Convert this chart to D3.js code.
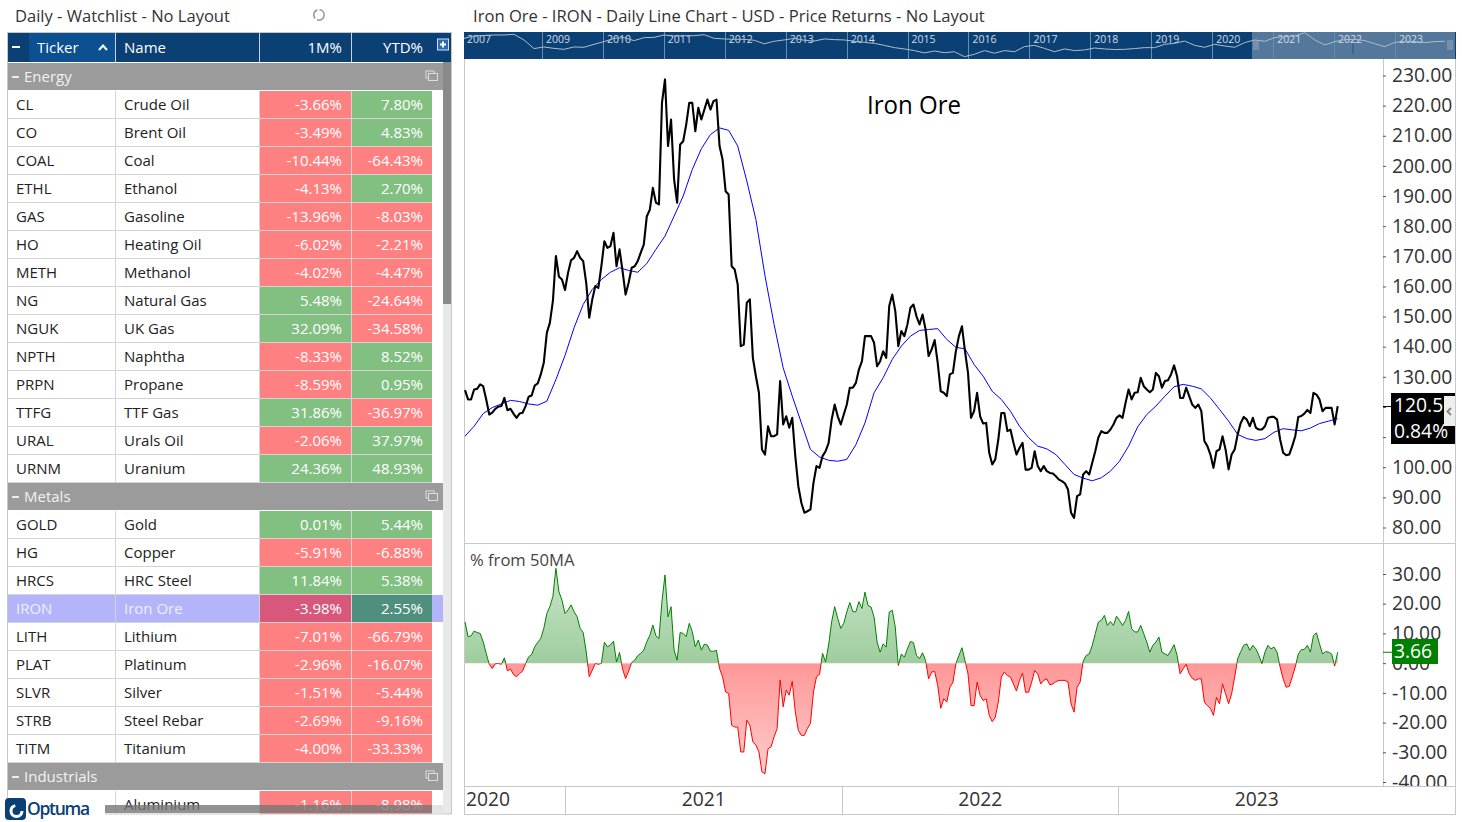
<!DOCTYPE html>
<html lang="en">
<head>
<meta charset="UTF-8">
<title>Iron Ore - Optuma</title>
<script src="https://d3js.org/d3.v7.min.js"></script>
<style>
    html, body { margin: 0; padding: 0; background: #fff; overflow: hidden; }
    text { font-family: "Open Sans", sans-serif; }
    .tick line { stroke: #555; }
    .tick text { fill: #333; font-size: 19.3px; }
</style>
</head>
<body>
<script>
// watchlist
const groups = ["Energy", "Metals", "Industrials"];
const groupSizes = [14, 9, 1];
const tickers = ["CL","CO","COAL","ETHL","GAS","HO","METH","NG","NGUK","NPTH","PRPN","TTFG","URAL","URNM",
    "GOLD","HG","HRCS","IRON","LITH","PLAT","SLVR","STRB","TITM",""];
const names = ["Crude Oil","Brent Oil","Coal","Ethanol","Gasoline","Heating Oil","Methanol","Natural Gas","UK Gas","Naphtha","Propane","TTF Gas","Urals Oil","Uranium",
    "Gold","Copper","HRC Steel","Iron Ore","Lithium","Platinum","Silver","Steel Rebar","Titanium","Aluminium"];
const oneMonth = [-3.66,-3.49,-10.44,-4.13,-13.96,-6.02,-4.02,5.48,32.09,-8.33,-8.59,31.86,-2.06,24.36,
    0.01,-5.91,11.84,-3.98,-7.01,-2.96,-1.51,-2.69,-4.00,-1.16];
const ytd = [7.80,4.83,-64.43,2.70,-8.03,-2.21,-4.47,-24.64,-34.58,8.52,0.95,-36.97,37.97,48.93,
    5.44,-6.88,5.38,2.55,-66.79,-16.07,-5.44,-9.16,-33.33,-8.98];

// iron ore daily line, one reading every 4 days from 22 Aug 2020
const priceValues = [125.6,122.5,122.5,125.8,126.0,127.5,126.9,122.5,117.5,118.1,119.4,120.1,120.3,123.0,118.9,119.4,117.8,116.4,117.8,118.1,
    120.3,123.4,123.8,127.1,127.8,130.8,134.7,144.6,147.9,155.1,170.1,163.2,162.3,158.8,164.5,168.7,169.5,171.7,169.5,168.4,
    161.2,149.6,155.7,160.1,159.5,166.7,175.0,172.8,173.4,177.8,166.7,172.3,165.1,157.3,161.2,166.2,166.7,168.4,171.2,173.9,
    183.3,185.5,192.7,187.8,187.2,220.9,228.7,206.6,215.4,195.5,187.8,207.1,208.2,213.7,220.9,220.9,211.5,219.3,215.4,218.7,
    222.0,218.7,221.5,222.0,206.6,202.1,191.6,190.5,166.7,165.6,160.6,140.2,140.7,154.6,155.7,136.3,130.2,124.7,105.9,104.2,
    113.6,110.3,110.3,110.9,128.6,114.2,116.9,113.1,116.4,103.7,93.7,88.2,84.9,85.4,86.0,94.8,100.4,99.8,103.7,105.3,
    108.1,115.8,120.8,116.9,114.2,117.5,120.8,126.4,126.4,128.0,132.4,135.2,143.5,143.5,143.5,141.3,133.5,135.2,138.5,136.3,
    153.5,157.3,151.8,140.2,145.2,143.5,147.4,152.9,154.0,150.1,147.4,150.7,145.7,136.9,139.1,142.2,134.6,125.2,124.7,123.6,
    130.8,131.3,138.5,143.5,146.8,138.5,131.3,116.4,118.6,124.7,116.9,114.5,114.7,104.8,100.9,102.6,109.2,118.0,118.0,112.0,
    112.5,108.1,104.2,106.4,108.1,99.2,99.2,99.8,105.3,100.4,98.7,100.4,98.7,98.1,97.9,97.0,95.9,95.4,94.6,92.6,
    84.9,83.2,90.4,91.0,97.6,98.7,97.6,101.5,105.3,109.8,112.0,111.4,111.4,112.5,114.2,116.4,117.2,116.4,121.4,125.8,
    122.5,124.7,124.9,129.7,126.9,125.8,124.9,125.8,131.3,130.2,126.4,128.6,128.9,130.8,133.8,130.2,123.0,123.0,126.4,123.6,
    120.8,119.7,120.8,118.6,108.7,107.0,104.2,99.8,105.3,105.9,110.3,105.9,99.3,104.2,105.9,110.9,114.7,116.7,115.8,113.6,
    116.4,113.1,112.5,112.5,113.6,116.4,116.7,116.7,115.8,109.2,104.8,104.0,104.2,107.0,110.3,116.7,117.0,117.8,119.0,118.0,
    124.7,124.1,122.5,118.6,119.7,119.7,119.7,114.2,120.3];

// 50 day moving average, one reading every 12 days
const maValues = [110.3,113.6,117.8,119.8,121.0,122.2,121.8,121.0,120.6,121.9,129.1,137.1,146.3,154.0,159.0,162.3,164.7,166.2,165.3,164.7,
    167.6,172.3,176.7,183.3,190.0,198.8,205.7,210.4,212.6,211.8,206.6,195.0,182.2,163.5,147.4,133.0,123.6,114.7,105.9,103.4,
    102.3,102.0,102.6,107.5,114.7,124.7,129.7,135.8,140.2,143.5,145.4,145.7,146.0,142.4,139.8,139.3,134.1,130.2,125.2,122.5,
    118.6,113.6,109.8,107.0,106.1,104.2,100.9,97.6,96.4,95.5,96.5,98.7,102.0,107.0,113.4,117.5,120.3,123.6,126.7,127.5,
    126.9,126.0,123.0,119.2,115.3,110.9,109.5,108.9,109.5,111.6,112.8,112.4,112.1,113.0,114.5,115.3,116.1];

// % from 50MA, same dates as the price line
const pctValues = [13.9,8.9,9.2,10.8,10.3,10.0,7.2,3.3,-0.4,-1.8,-0.2,-0.1,-0.4,1.8,-2.6,-2.0,-3.8,-4.6,-3.5,-2.7,
    -0.1,2.1,2.9,5.5,7.0,8.3,11.7,16.7,19.0,22.4,31.9,24.0,21.2,16.7,17.9,19.6,17.3,15.6,11.7,10.3,
    3.8,-4.6,-2.4,-0.1,-0.4,-0.1,7.0,5.5,6.1,7.4,0.4,3.6,-2.0,-5.2,-2.7,0.2,1.0,2.5,3.3,4.4,
    7.2,9.4,12.8,9.2,8.3,20.7,29.7,15.6,19.0,4.4,1.0,10.3,10.0,8.9,13.4,10.6,5.5,7.8,4.4,6.4,
    6.1,4.0,4.0,4.3,-1.8,-4.6,-9.7,-10.2,-20.9,-21.5,-21.5,-29.9,-29.9,-19.2,-20.9,-26.5,-27.6,-29.9,-36.6,-37.2,
    -28.8,-28.2,-24.8,-22.0,-5.7,-14.7,-9.1,-10.8,-6.1,-16.4,-22.6,-24.3,-24.3,-22.0,-20.3,-9.7,-4.6,-3.8,3.3,0.4,
    6.1,13.9,19.0,15.1,11.7,13.4,17.3,20.4,17.3,17.3,20.7,18.4,23.9,19.4,18.9,15.5,7.1,3.7,6.5,5.4,
    17.2,17.8,12.1,-0.8,3.1,2.0,4.8,7.3,6.9,2.6,1.5,3.5,0.9,-5.3,-3.0,-2.8,-7.5,-15.2,-12.0,-13.1,
    -8.1,-6.6,-0.2,2.6,5.2,0.9,-3.6,-14.3,-14.3,-6.4,-10.9,-12.6,-12.0,-17.6,-19.7,-18.2,-13.1,-4.7,-3.0,-4.2,
    -4.7,-7.0,-9.4,-5.8,-3.3,-9.8,-9.8,-6.4,-2.5,-3.6,-7.0,-5.8,-5.3,-7.3,-7.0,-6.2,-5.8,-5.8,-5.8,-6.4,
    -13.7,-16.5,-8.1,-6.4,0.6,2.6,3.1,6.0,9.9,13.8,14.4,16.1,12.7,14.0,12.7,15.8,14.4,12.7,14.4,17.4,
    11.6,10.5,10.5,12.7,9.9,7.1,3.7,6.0,7.1,8.8,3.7,3.1,2.6,4.3,6.2,2.6,-3.6,-1.9,-0.4,-3.6,
    -5.1,-5.8,-5.3,-5.3,-13.1,-14.3,-15.2,-17.6,-11.5,-13.7,-7.0,-10.3,-13.7,-10.3,-4.7,1.5,3.9,6.0,6.5,4.3,
    6.0,4.8,2.6,-0.2,3.7,6.0,4.8,5.4,3.7,-1.3,-5.3,-8.1,-7.8,-4.7,-1.3,3.1,4.5,4.6,6.0,3.7,
    9.3,10.2,6.5,3.1,3.9,3.7,3.1,-1.0,3.7];

// overview strip, one reading every 60 days from 21 Sep 2007
const navValues = [156,183,190,196,196,205,140,78,87,79,74,87,85,104,125,156,164,134,164,167,
    196,183,187,187,200,156,150,146,146,137,108,128,140,156,137,130,150,143,140,128,
    119,111,97,83,76,68,58,66,59,63,45,53,68,57,68,63,89,97,79,63,
    76,68,71,81,76,73,74,78,83,83,104,111,130,97,85,104,93,85,117,140,
    128,164,175,183,229,140,100,125,143,146,134,108,89,119,125,125,117,125,128];
const navYears = [2009,2010,2011,2012,2013,2014,2015,2016,2017,2018,2019,2020,2021,2022,2023];

const priceTicks = [230,220,210,200,190,180,170,160,150,140,130,120,110,100,90,80];
const hiddenPriceLabels = [120, 110]; // sit behind the last price box
const pctTicks = [30,20,10,0,-10,-20,-30,-40];
const yearTicks = [2021,2022,2023];
const lastPrice = "120.5";
const lastChange = "0.84%";
const lastPct = 3.66;

const priceStart = new Date(Date.UTC(2020, 7, 22));
const navStart = new Date(Date.UTC(2007, 8, 21));
const priceDates = priceValues.map((d, i) => d3.utcDay.offset(priceStart, i * 4));
const maDates = maValues.map((d, i) => d3.utcDay.offset(priceStart, i * 12));
const navDates = navValues.map((d, i) => d3.utcDay.offset(navStart, i * 60));
const yearDate = y => new Date(Date.UTC(y, 0, 1));
const crisp = v => Math.round(v) + 0.5;

const svg = d3.select("body").append("svg")
    .attr("width", 1462)
    .attr("height", 822)
    .style("display", "block");

const defs = svg.append("defs");
function gradient(id, y1, y2, c1, c2) {
    const g = defs.append("linearGradient").attr("id", id)
        .attr("gradientUnits", "userSpaceOnUse")
        .attr("x1", 0).attr("x2", 0).attr("y1", y1).attr("y2", y2);
    g.append("stop").attr("offset", 0).attr("stop-color", c1);
    g.append("stop").attr("offset", 1).attr("stop-color", c2);
}

/* ---------- watchlist ---------- */
const navy = "#0b4075";
const rowH = 28;
const table = svg.append("g");

table.append("text").attr("x", 15).attr("y", 22).attr("font-size", 16.55).attr("fill", "#333")
    .text("Daily - Watchlist - No Layout");

// refresh icon
table.append("circle").attr("cx", 319).attr("cy", 15).attr("r", 5.2)
    .attr("fill", "none").attr("stroke", "#999").attr("stroke-width", 1.6).attr("stroke-dasharray", "10 2.2");

// header
table.append("rect").attr("x", 7).attr("y", 32).attr("width", 444).attr("height", 30).attr("fill", navy);
table.append("rect").attr("x", 29).attr("y", 32).attr("width", 86).attr("height", 30).attr("fill", "#0c5092");
table.selectAll(".hsep").data([115.5, 259.5, 351.5]).join("line").attr("class", "hsep")
    .attr("x1", d => d).attr("x2", d => d).attr("y1", 32).attr("y2", 62)
    .attr("stroke", "#c8d2dc");
const headers = [
    {t: "Ticker", x: 37, a: "start"},
    {t: "Name", x: 124, a: "start"},
    {t: "1M%", x: 342, a: "end"},
    {t: "YTD%", x: 423, a: "end"}
];
table.selectAll(".htext").data(headers).join("text").attr("class", "htext")
    .attr("x", d => d.x).attr("y", 53).attr("text-anchor", d => d.a)
    .attr("font-size", 15).attr("fill", "#fff").text(d => d.t);
table.append("rect").attr("x", 12).attr("y", 46).attr("width", 8).attr("height", 2).attr("fill", "#fff");
table.append("path").attr("d", "M99,50 L103,45.5 L107,50").attr("fill", "none").attr("stroke", "#fff").attr("stroke-width", 2);
table.append("rect").attr("x", 437.5).attr("y", 39).attr("width", 11).attr("height", 11)
    .attr("fill", "#2a6cb8").attr("stroke", "#cfe0f2");
table.append("path").attr("d", "M440,44.5 H446 M443,41.5 V47.5").attr("stroke", "#fff").attr("stroke-width", 2);

// rows, groups take a row of their own
let rowIdx = 0, itemIdx = 0;
const groupRows = [], itemRows = [];
groups.forEach((g, gi) => {
    groupRows.push({name: g, row: rowIdx++});
    for (let k = 0; k < groupSizes[gi]; k++) {
        itemRows.push({
            ticker: tickers[itemIdx], name: names[itemIdx],
            m: oneMonth[itemIdx], y: ytd[itemIdx], row: rowIdx++
        });
        itemIdx++;
    }
});
const rowY = r => 63 + r * rowH;
const cellColor = (v, sel) => sel ? (v < 0 ? "#d8587c" : "#4f8f7e") : (v < 0 ? "#ff8080" : "#82c082");

const rowG = table.selectAll(".row").data(itemRows).join("g").attr("class", "row")
    .attr("transform", d => `translate(0,${rowY(d.row)})`);
rowG.filter(d => d.ticker === "IRON").append("rect")
    .attr("x", 8).attr("width", 435).attr("height", rowH - 1).attr("fill", "#b4b4fa");
rowG.append("rect").attr("x", 260).attr("width", 91).attr("height", rowH - 1)
    .attr("fill", d => cellColor(d.m, d.ticker === "IRON"));
rowG.append("rect").attr("x", 352).attr("width", 80).attr("height", rowH - 1)
    .attr("fill", d => cellColor(d.y, d.ticker === "IRON"));
rowG.append("line").attr("x1", 7).attr("x2", 432).attr("y1", rowH - 0.5).attr("y2", rowH - 0.5).attr("stroke", "#d4d4d4");
rowG.selectAll(".csep").data([115.5, 259.5, 351.5]).join("line").attr("class", "csep")
    .attr("x1", d => d).attr("x2", d => d).attr("y1", 0).attr("y2", rowH)
    .attr("stroke", "#d4d4d4");
rowG.append("text").attr("x", 16).attr("y", 19).attr("font-size", 15)
    .attr("fill", d => d.ticker === "IRON" ? "#eef0ff" : "#222").text(d => d.ticker);
rowG.append("text").attr("x", 124).attr("y", 19).attr("font-size", 15)
    .attr("fill", d => d.ticker === "IRON" ? "#eef0ff" : "#222").text(d => d.name);
rowG.append("text").attr("x", 342).attr("y", 19).attr("text-anchor", "end").attr("font-size", 15)
    .attr("fill", "#fff").text(d => d.m.toFixed(2) + "%");
rowG.append("text").attr("x", 423).attr("y", 19).attr("text-anchor", "end").attr("font-size", 15)
    .attr("fill", "#fff").text(d => d.y.toFixed(2) + "%");

const groupG = table.selectAll(".grp").data(groupRows).join("g").attr("class", "grp")
    .attr("transform", d => `translate(0,${rowY(d.row)})`);
groupG.append("rect").attr("x", 7).attr("width", 436).attr("height", rowH - 1).attr("fill", "#9b9b9b");
groupG.append("rect").attr("x", 12).attr("y", 13).attr("width", 7).attr("height", 2).attr("fill", "#eee");
groupG.append("text").attr("x", 24).attr("y", 19).attr("font-size", 15).attr("fill", "#f2f2f2").text(d => d.name);
groupG.append("rect").attr("x", 426).attr("y", 8).attr("width", 8).attr("height", 7).attr("fill", "none").attr("stroke", "#ddd");
groupG.append("rect").attr("x", 428.5).attr("y", 10.5).attr("width", 9).attr("height", 7).attr("fill", "#9b9b9b").attr("stroke", "#ddd");

// scrollbars, outline and logo
table.append("rect").attr("x", 105).attr("y", 814).attr("width", 350).attr("height", 8).attr("fill", "#fff");
table.append("rect").attr("x", 443).attr("y", 62).attr("width", 8).attr("height", 752).attr("fill", "#e9e9e9");
table.append("rect").attr("x", 443).attr("y", 62).attr("width", 8).attr("height", 242).attr("fill", "#8a8a8a");
table.append("rect").attr("x", 7.5).attr("y", 32.5).attr("width", 444).attr("height", 781.5)
    .attr("fill", "none").attr("stroke", "#c8c8c8");
table.append("rect").attr("x", 0).attr("y", 798).attr("width", 105).attr("height", 24).attr("fill", "#fff");
table.append("rect").attr("x", 105).attr("y", 805).attr("width", 327).attr("height", 8).attr("fill", "#777").attr("opacity", 0.8);
table.append("rect").attr("x", 432).attr("y", 805).attr("width", 11).attr("height", 8).attr("fill", "#e4e4e4");
table.append("rect").attr("x", 5).attr("y", 798).attr("width", 21).attr("height", 22).attr("rx", 4).attr("fill", navy);
table.append("circle").attr("cx", 16.5).attr("cy", 811).attr("r", 5.5).attr("fill", "none")
    .attr("stroke", "#fff").attr("stroke-width", 3).attr("stroke-dasharray", "24 10");
table.append("text").attr("x", 27).attr("y", 815).attr("font-size", 17.5).attr("font-weight", 600)
    .attr("letter-spacing", "-1.3px").attr("fill", navy).text("Optuma");

/* ---------- chart title and overview ---------- */
svg.append("text").attr("x", 473).attr("y", 22).attr("font-size", 16.6).attr("fill", "#333")
    .text("Iron Ore - IRON - Daily Line Chart - USD - Price Returns - No Layout");

const navX = d3.scaleUtc().domain([yearDate(2009), yearDate(2023)]).range([542, 1395]);
const navY = d3.scaleLog().domain([85, 229]).range([47.3, 32.7]);
const nav = svg.append("g");
nav.append("rect").attr("x", 464).attr("y", 32).attr("width", 992).attr("height", 27).attr("fill", navy);
nav.append("rect").attr("x", 1252).attr("y", 32).attr("width", 203).attr("height", 27).attr("fill", "#54779c");
nav.selectAll(".nsep").data(navYears).join("line").attr("class", "nsep")
    .attr("x1", d => crisp(navX(yearDate(d)))).attr("x2", d => crisp(navX(yearDate(d))))
    .attr("y1", 32).attr("y2", 59).attr("stroke", "#6d8cab");
nav.selectAll(".nlab").data(navYears).join("text").attr("class", "nlab")
    .attr("x", d => navX(yearDate(d)) + 4).attr("y", 43).attr("font-size", 10.5).attr("fill", "#d4dde6")
    .text(d => d);
nav.append("text").attr("x", 467).attr("y", 43).attr("font-size", 10.5).attr("fill", "#d4dde6").text("2007");
nav.append("path").datum(navValues)
    .attr("d", d3.line().x((d, i) => navX(navDates[i])).y(d => navY(d)))
    .attr("fill", "none").attr("stroke", "#aebccb").attr("stroke-width", 1);
nav.selectAll(".grip").data([1254, 1256, 1258, 1448, 1450, 1452]).join("line").attr("class", "grip")
    .attr("x1", d => d).attr("x2", d => d).attr("y1", 40).attr("y2", 50)
    .attr("stroke", "#9aa8b8");
nav.append("line").attr("x1", 1353).attr("x2", 1353).attr("y1", 43).attr("y2", 54).attr("stroke", "#33526f");

/* ---------- panels ---------- */
const x = d3.scaleUtc().domain([yearDate(2021), yearDate(2023)]).range([565, 1118]);
const y = d3.scaleLinear().domain([80, 230]).range([527.5, 75.5]);
const pctY = d3.scaleLinear().domain([-40, 30]).range([782, 574]);

defs.append("clipPath").attr("id", "clipUp").append("rect")
    .attr("x", 464).attr("y", 544).attr("width", 920).attr("height", pctY(0) - 544);
defs.append("clipPath").attr("id", "clipDown").append("rect")
    .attr("x", 464).attr("y", pctY(0)).attr("width", 920).attr("height", 786 - pctY(0));
// the axis group is translated, so this clip is in its own coordinates
defs.append("clipPath").attr("id", "clipAxis").append("rect")
    .attr("x", -3).attr("y", 544).attr("width", 80).attr("height", 242);
gradient("fillUp", pctY(30), pctY(0), "#c6e3c6", "#9fcd9f");
gradient("fillDown", pctY(0), pctY(-40), "#ff9797", "#ffd0d0");

// frame
const frame = "#c8c8c8";
const frameLines = [
    [464.5, 59, 464.5, 814], [1455.5, 59, 1455.5, 814], [464, 814.5, 1456, 814.5],
    [464, 543.5, 1456, 543.5], [464, 786.5, 1456, 786.5], [1383.5, 59, 1383.5, 786]
];
svg.selectAll(".frame").data(frameLines).join("line").attr("class", "frame")
    .attr("x1", d => d[0]).attr("y1", d => d[1]).attr("x2", d => d[2]).attr("y2", d => d[3])
    .attr("stroke", frame);

// price panel
const priceLine = d3.line().x((d, i) => x(priceDates[i])).y(d => y(d)).curve(d3.curveLinear);
const maLine = d3.line().x((d, i) => x(maDates[i])).y(d => y(d));
svg.append("path").datum(maValues).attr("d", maLine)
    .attr("fill", "none").attr("stroke", "#0000ff").attr("stroke-width", 1);
svg.append("path").datum(priceValues).attr("d", priceLine)
    .attr("fill", "none").attr("stroke", "#000").attr("stroke-width", 2.1).attr("stroke-linejoin", "round");
svg.append("text").attr("x", 867).attr("y", 114).attr("font-size", 26)
    .attr("textLength", 94).attr("lengthAdjust", "spacingAndGlyphs")
    .attr("fill", "#000").text("Iron Ore");

svg.append("g").attr("transform", "translate(1383,0)")
    .call(d3.axisRight(y).tickValues(priceTicks).tickSize(3).tickPadding(6).tickSizeOuter(0)
        .tickFormat(d => hiddenPriceLabels.includes(d) ? "" : d.toFixed(2)))
    .call(g => g.select(".domain").remove());

// last price box
svg.append("rect").attr("x", 1391).attr("y", 393).attr("width", 64).attr("height", 51).attr("fill", "#000");
svg.append("line").attr("x1", 1383).attr("x2", 1391).attr("y1", 406.5).attr("y2", 406.5).attr("stroke", "#000");
svg.append("text").attr("x", 1394).attr("y", 412).attr("font-size", 19.3).attr("fill", "#fff").text(lastPrice);
svg.append("text").attr("x", 1394).attr("y", 438).attr("font-size", 19.3).attr("fill", "#fff").text(lastChange);
svg.append("rect").attr("x", 1444).attr("y", 396).attr("width", 11).attr("height", 30).attr("fill", "#eee");
svg.append("path").attr("d", "M1451,408 L1447.5,411.5 L1451,415").attr("fill", "none").attr("stroke", "#888").attr("stroke-width", 2);

// % from 50MA panel
const pctArea = d3.area().x((d, i) => x(priceDates[i])).y0(pctY(0)).y1(d => pctY(d));
const pctLine = d3.line().x((d, i) => x(priceDates[i])).y(d => pctY(d));
[["clipUp", "url(#fillUp)", "#008000"], ["clipDown", "url(#fillDown)", "#ff0000"]].forEach(s => {
    const g = svg.append("g").attr("clip-path", `url(#${s[0]})`);
    g.append("path").datum(pctValues).attr("d", pctArea).attr("fill", s[1]);
    g.append("path").datum(pctValues).attr("d", pctLine).attr("fill", "none").attr("stroke", s[2]).attr("stroke-width", 1);
});
svg.append("text").attr("x", 470).attr("y", 566).attr("font-size", 16.6).attr("fill", "#444").text("% from 50MA");

svg.append("g").attr("transform", "translate(1383,0)").attr("clip-path", "url(#clipAxis)")
    .call(d3.axisRight(pctY).tickValues(pctTicks).tickSize(3).tickPadding(6).tickSizeOuter(0).tickFormat(d => d.toFixed(2)))
    .call(g => g.select(".domain").remove());

svg.append("rect").attr("x", 1392).attr("y", 639).attr("width", 46).attr("height", 25).attr("fill", "#008000");
svg.append("line").attr("x1", 1383).attr("x2", 1392).attr("y1", pctY(lastPct)).attr("y2", pctY(lastPct)).attr("stroke", "#008000");
svg.append("text").attr("x", 1394).attr("y", 658).attr("font-size", 19.3).attr("fill", "#fff").text(lastPct.toFixed(2));

// year band under the panels
svg.selectAll(".ysep").data(yearTicks).join("line").attr("class", "ysep")
    .attr("x1", d => crisp(x(yearDate(d)))).attr("x2", d => crisp(x(yearDate(d))))
    .attr("y1", 787).attr("y2", 814).attr("stroke", frame);
svg.selectAll(".ylab").data(yearTicks).join("text").attr("class", "ylab")
    .attr("x", d => (x(yearDate(d)) + x(yearDate(d + 1))) / 2 + 0.5).attr("y", 806)
    .attr("text-anchor", "middle").attr("font-size", 19.3).attr("fill", "#333")
    .text(d => d);
svg.append("text").attr("x", 466).attr("y", 806).attr("font-size", 19.3).attr("fill", "#333").text("2020");
</script>
</body>
</html>
